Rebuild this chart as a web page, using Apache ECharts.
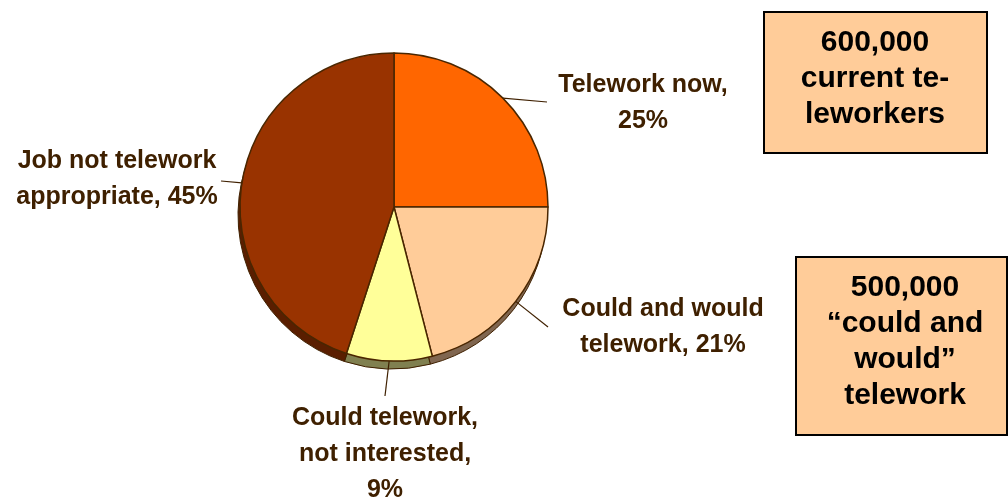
<!DOCTYPE html>
<html>
<head>
<meta charset="utf-8">
<script src="https://cdn.jsdelivr.net/npm/echarts@6/dist/echarts.min.js"></script>
<style>
  html, body { margin: 0; padding: 0; background: #fff; }
  #chart { width: 1008px; height: 497px; }
</style>
</head>
<body>
<div id="chart"></div>
<script>
// data
const categories = ['Telework now', 'Could and would\ntelework', 'Could telework,\nnot interested,', 'Job not telework\nappropriate'];
const shares = [25, 21, 9, 45];
const sliceColors = ['#FF6600', '#FFCC99', '#FFFF99', '#993300'];
const edgeColors = ['#7a3000', '#806650', '#808050', '#5a1e00'];
const labelTexts = ['Telework now,\n25%', 'Could and would\ntelework, 21%', 'Could telework,\nnot interested,\n9%', 'Job not telework\nappropriate, 45%'];
const boxLines1 = ['600,000', 'current te-', 'leworkers'];
const boxLines2 = ['500,000', '\u201Ccould and', 'would\u201D', 'telework'];

// where each label sits: text centre and end of its leader line
const labelSpots = [
  { x: 643, y: 103, end: [547, 102] },
  { x: 663, y: 327, end: [548, 327] },
  { x: 385, y: 454, end: [385, 396] },
  { x: 117, y: 179, end: [221, 181] }
];

const textColor = '#3f2000';
const chart = echarts.init(document.getElementById('chart'), null, { renderer: 'canvas' });

const mainData = categories.map((c, i) => ({
  name: c,
  value: shares[i],
  itemStyle: { color: sliceColors[i] }
}));
const edgeData = categories.map((c, i) => ({
  name: c,
  value: shares[i],
  itemStyle: { color: edgeColors[i] }
}));

function boxGraphic(x, y, w, h, lines, cx, cy) {
  return [
    {
      type: 'rect',
      shape: { x: x, y: y, width: w, height: h },
      style: { fill: '#FFCC99', stroke: '#000', lineWidth: 2 }
    },
    {
      type: 'text',
      x: cx, y: cy,
      style: {
        text: lines.join('\n'),
        fill: '#000',
        font: 'bold 30px "Liberation Sans", Arial, sans-serif',
        lineHeight: 36,
        align: 'center',
        verticalAlign: 'middle'
      }
    }
  ];
}

const option = {
  backgroundColor: '#fff',
  animation: false,
  series: [
    {
      // dark rim under the pie
      type: 'pie',
      silent: true,
      z: 1,
      center: [392, 215],
      radius: 154,
      startAngle: 90,
      clockwise: true,
      label: { show: false },
      labelLine: { show: false },
      itemStyle: { borderColor: '#3f2000', borderWidth: 1 },
      data: edgeData
    },
    {
      type: 'pie',
      z: 2,
      center: [394, 207],
      radius: 154,
      startAngle: 90,
      clockwise: true,
      itemStyle: { borderColor: '#4a2600', borderWidth: 1.5 },
      label: {
        show: true,
        position: 'outside',
        formatter: p => labelTexts[p.dataIndex],
        color: textColor,
        fontFamily: '"Liberation Sans", Arial, sans-serif',
        fontWeight: 'bold',
        fontSize: 25,
        lineHeight: 36,
        overflow: 'none',
        width: 260
      },
      labelLine: {
        show: true,
        length: 10,
        length2: 20,
        lineStyle: { color: '#3f2000', width: 1.2 }
      },
      labelLayout: function (params) {
        const s = labelSpots[params.dataIndex];
        const a = params.labelLinePoints ? params.labelLinePoints[0] : s.end;
        return {
          x: s.x,
          y: s.y,
          align: 'center',
          verticalAlign: 'middle',
          labelLinePoints: [a, s.end, s.end]
        };
      },
      data: mainData
    }
  ],
  graphic: [
    ...boxGraphic(764, 12, 223, 141, boxLines1, 875, 79),
    ...boxGraphic(796, 257, 211, 178, boxLines2, 905, 342)
  ]
};

chart.setOption(option);
</script>
</body>
</html>
